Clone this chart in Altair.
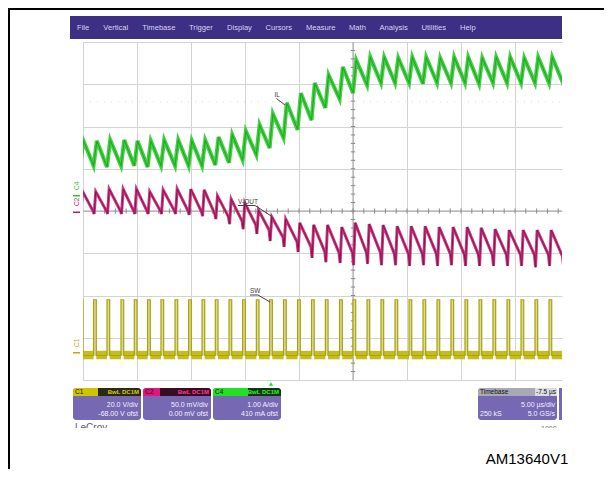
import altair as alt
import numpy as np
import pandas as pd

# ---------------- data ----------------
# switching instants (us from the left edge of the graticule, 5 us/div)
sw_times = [-0.25, 0.98, 2.22, 3.52, 4.75, 5.98, 7.22, 8.52, 9.78, 11.02, 12.25,
            13.52, 14.78, 16.05, 17.28, 18.57, 19.87, 21.16, 22.44, 23.76, 25.00,
            26.30, 27.59, 28.89, 30.19, 31.48, 32.78, 34.07, 35.37, 36.67, 37.96,
            39.26, 40.56, 41.85, 43.15, 44.44]
# inductor current IL (screen divisions): valley at switch-on, peak after the pulse
il_valley = [1.07, 1.07, 1.04, 1.07, 1.07, 1.04, 1.07, 1.07, 1.07, 1.07, 1.09,
             1.14, 1.21, 1.33, 1.49, 1.73, 1.92, 2.15, 2.44, 2.65, 2.79, 2.98,
             3.03, 3.03, 3.03, 3.01, 3.03, 3.03, 3.03, 3.01, 3.03, 3.03, 3.03,
             3.03, 3.03, 3.03]
il_peak = [1.66, 1.66, 1.68, 1.68, 1.66, 1.66, 1.68, 1.68, 1.66, 1.68, 1.75,
           1.80, 1.89, 2.04, 2.30, 2.56, 2.79, 3.03, 3.22, 3.41, 3.57, 3.64,
           3.64, 3.62, 3.64, 3.64, 3.62, 3.64, 3.64, 3.62, 3.64, 3.64, 3.62,
           3.64, 3.64, 3.64]
# output voltage ripple V-OUT (screen divisions)
vout_peak = [0.47, 0.46, 0.52, 0.52, 0.52, 0.46, 0.50, 0.52, 0.52, 0.50, 0.36,
             0.28, 0.19, 0.02, -0.14, -0.19, -0.28, -0.33, -0.33, -0.38, -0.28,
             -0.31, -0.33, -0.36, -0.36, -0.36, -0.38, -0.38, -0.38, -0.40, -0.43,
             -0.45, -0.45, -0.45, -0.45, -0.45]
vout_trough = [0.0, 0.0, 0.0, 0.0, 0.0, 0.0, 0.0, 0.0, -0.02, -0.07, -0.14,
               -0.24, -0.33, -0.45, -0.62, -0.73, -0.85, -0.97, -0.99, -0.99, -0.99,
               -0.99, -1.02, -1.02, -1.02, -1.02, -1.02, -1.04, -1.04, -1.04, -1.04,
               -1.04, -1.04, -1.04, -1.07, -1.07]
vout_dip = [-0.05, -0.07, -0.07, -0.07, -0.07, -0.07, -0.07, -0.07, -0.09, -0.12,
            -0.19, -0.31, -0.43, -0.54, -0.71, -0.85, -0.97, -1.11, -1.21, -1.23,
            -1.28, -1.25, -1.28, -1.28, -1.30, -1.28, -1.30, -1.28, -1.30, -1.30,
            -1.30, -1.30, -1.30, -1.33, -1.30, -1.30]
# switch node SW (screen divisions)
sw_low = -3.42
sw_high = -2.10
sw_band = [-3.31, -3.51]
sw_width = 0.25

menu_items = ["File", "Vertical", "Timebase", "Trigger", "Display", "Cursors",
              "Measure", "Math", "Analysis", "Utilities", "Help"]
channel_boxes = [
    ("C1", "BwL DC1M", "20.0 V/div", "-68.00 V ofst"),
    ("C2", "BwL DC1M", "50.0 mV/div", "0.00 mV ofst"),
    ("C4", "BwL DC1M", "1.00 A/div", "410 mA ofst"),
]
timebase_box = ("Timebase", "-7.5 µs", "5.00 µs/div", "250 kS", "5.0 GS/s")

# ---------------- layout ----------------
PX0, PY0 = 83, 42          # page position of the graticule's top-left corner
W, H = 479, 338            # visible graticule (54 px/div x, 42.25 px/div y)
XMAX = W / 54 * 5
one = pd.DataFrame({"a": [0]})

xs = alt.Scale(domain=[0, XMAX], nice=False, zero=False)
ys = alt.Scale(domain=[-4, 4], nice=False, zero=False)
GRID = "#d3d3d3"
xaxis = alt.Axis(values=[0, 5, 10, 15, 20, 25, 30, 35, 40], grid=True, gridColor=GRID,
                 gridWidth=1, labels=False, ticks=False, domain=False, title=None)
yaxis = alt.Axis(values=[-4, -3, -2, -1, 0, 1, 2, 3, 4], grid=True, gridColor=GRID,
                 gridWidth=1, labels=False, ticks=False, domain=False, title=None)
X = alt.X("t:Q", scale=xs, axis=xaxis)
Y = alt.Y("v:Q", scale=ys, axis=yaxis)


def rect(x1, y1, x2, y2, fill, **kw):
    return alt.Chart(one).mark_rect(fill=fill, **kw).encode(
        x=alt.value(x1 - PX0), x2=alt.value(x2 - PX0),
        y=alt.value(y1 - PY0), y2=alt.value(y2 - PY0))


def seg(x1, y1, x2, y2, color, w=1.0):
    return alt.Chart(one).mark_rule(color=color, strokeWidth=w).encode(
        x=alt.value(x1 - PX0), x2=alt.value(x2 - PX0),
        y=alt.value(y1 - PY0), y2=alt.value(y2 - PY0))


def text(s, x, y, size=7, color="#000", align="left", angle=0, weight="normal",
         font="Liberation Sans"):
    return alt.Chart(one).mark_text(text=s, fontSize=size, color=color, align=align,
                                    baseline="middle", angle=angle, fontWeight=weight,
                                    font=font).encode(
        x=alt.value(x - PX0), y=alt.value(y - PY0))


layers = []

# ---- graticule centre lines with minor ticks ----
layers.append(alt.Chart(pd.DataFrame({"t": [0], "t2": [XMAX], "v": [0]}))
              .mark_rule(color="#a0a0a0", strokeWidth=1)
              .encode(x=X, x2="t2:Q", y=Y))
layers.append(alt.Chart(pd.DataFrame({"t": [25], "v": [-4], "v2": [4]}))
              .mark_rule(color="#a0a0a0", strokeWidth=1)
              .encode(x=X, y=Y, y2="v2:Q"))
ht = np.arange(1, 44.4, 1.0)
layers.append(alt.Chart(pd.DataFrame({"t": ht, "v": -0.06, "v2": 0.06}))
              .mark_rule(color="#8a8a8a", strokeWidth=1)
              .encode(x=X, y=Y, y2="v2:Q"))
vt = np.arange(-3.8, 3.9, 0.2)
layers.append(alt.Chart(pd.DataFrame({"t": 24.8, "t2": 25.2, "v": vt}))
              .mark_rule(color="#8a8a8a", strokeWidth=1)
              .encode(x=X, x2="t2:Q", y=Y))
layers.append(alt.Chart(pd.DataFrame({"t": [0], "t2": [XMAX], "v": [2.58]}))
              .mark_rule(color="#dadada", strokeWidth=1, strokeDash=[1, 6])
              .encode(x=X, x2="t2:Q", y=Y))

# ---- SW trace (yellow) ----
sw_rows, band_rows, fill_rows = [], [], []
i = 0
for k, t in enumerate(sw_times):
    for tt, vv in [(t, sw_low), (t, sw_high), (t + sw_width, sw_high), (t + sw_width, sw_low)]:
        sw_rows.append((i, tt, vv)); i += 1
    fill_rows.append((t, t + sw_width, sw_low, sw_high))
    if k + 1 < len(sw_times):
        band_rows.append((t + sw_width, sw_times[k + 1], sw_band[0], sw_band[1]))
df_sw = pd.DataFrame(sw_rows, columns=["i", "t", "v"])
df_band = pd.DataFrame(band_rows, columns=["t", "t2", "v", "v2"])
df_fill = pd.DataFrame(fill_rows, columns=["t", "t2", "v", "v2"])
layers.append(alt.Chart(df_fill).mark_rect(fill="#dcd8a6", clip=True)
              .encode(x=X, x2="t2:Q", y=Y, y2="v2:Q"))
layers.append(alt.Chart(df_band).mark_rect(fill="#c4bc20", clip=True)
              .encode(x=X, x2="t2:Q", y=Y, y2="v2:Q"))
layers.append(alt.Chart(df_sw).mark_line(color="#aaa300", strokeWidth=1.2, clip=True)
              .encode(x=X, y=Y, order="i:Q"))

# ---- IL trace (green) ----
il_rows = []
for k, t in enumerate(sw_times):
    il_rows.append((t, il_valley[k]))
    il_rows.append((t + 0.3, il_peak[k]))
df_il = pd.DataFrame(il_rows, columns=["t", "v"])
layers.append(alt.Chart(df_il).mark_line(color="#44d044", strokeWidth=4, clip=True)
              .encode(x=X, y=Y))
layers.append(alt.Chart(df_il).mark_line(color="#22a822", strokeWidth=1.1, clip=True)
              .encode(x=X, y=Y))

# ---- V-OUT trace (magenta) ----
vo_rows = []
for k, t in enumerate(sw_times):
    prev = vout_trough[k - 1] if k > 0 else vout_trough[0]
    vo_rows.append((t - 0.05, prev))
    vo_rows.append((t + 0.05, vout_dip[k]))
    vo_rows.append((t + 0.2, vout_peak[k]))
df_vo = pd.DataFrame(vo_rows, columns=["t", "v"])
layers.append(alt.Chart(df_vo).mark_line(color="#c93a80", strokeWidth=3, clip=True)
              .encode(x=X, y=Y))
layers.append(alt.Chart(df_vo).mark_line(color="#8e1250", strokeWidth=1, clip=True)
              .encode(x=X, y=Y))

# ---- trace annotations ----
ANN = "#404040"
layers += [
    text("IL", 274.5, 94.5, size=6.5, color=ANN),
    seg(276.5, 98.5, 285, 105, ANN),
    text("V-OUT", 238, 201.5, size=6.5, color=ANN),
    seg(238, 205.5, 255, 205.5, ANN),
    seg(255, 205.5, 272, 216.5, ANN),
    text("SW", 250, 290.5, size=6.5, color=ANN),
    seg(250, 295, 258, 295, ANN),
    seg(258, 295, 270, 302, ANN),
]

# ---- channel markers on the left ----
layers += [
    text("C4", 76.5, 190, size=6.5, color="#2ec52e", angle=270),
    rect(73, 195, 80, 196.5, "#2ec52e"),
    text("C2", 76.5, 206, size=6.5, color="#c2186c", angle=270),
    rect(73, 211.5, 80, 213, "#c2186c"),
    text("C1", 76.5, 347, size=6.5, color="#b5ad10", angle=270),
    rect(73, 352, 80, 353.5, "#b5ad10"),
]

# ---- page frame ----
layers += [seg(8, 9, 604, 9, "#000", 2), seg(9, 8, 9, 469, "#000", 2)]

# ---- scope menu bar ----
layers.append(rect(70, 16, 562, 39, "#3d2f83"))
menu_x = [77, 103.3, 142.3, 189, 227, 265.5, 306, 349, 379.5, 421.5, 460]
for name, mx in zip(menu_items, menu_x):
    layers.append(text(name, mx, 28, size=7.6, color="#d9d5ee"))

# ---- channel descriptor boxes ----
BODY = "#7668b2"
box_geo = [(73, 141, 98, "#cfc400", "#2b2a10", "#d8cf20"),
           (143, 211, 160, "#e0157c", "#3a0c22", "#ff3c9a"),
           (213, 281, 248, "#22e022", "#0f3a0f", "#40f040")]
for (name, bw, vdiv, ofs), (x1, x2, xm, col, dark, tcol) in zip(channel_boxes, box_geo):
    layers += [
        rect(x1, 388, x2, 420, BODY, cornerRadius=3),
        rect(x1, 388, xm, 396, col, cornerRadiusTopLeft=3),
        rect(xm, 388, x2, 396, dark, cornerRadiusTopRight=3),
        text(name, x1 + 2, 392, size=6.5, color="#101010"),
        text(bw, x2 - 2, 392, size=6, color=tcol, align="right", weight="bold"),
        text(vdiv, x2 - 3, 404.5, size=7, color="#f4f2ff", align="right"),
        text(ofs, x2 - 3, 413.5, size=7, color="#f4f2ff", align="right"),
    ]
tb, tbv, tdiv, tks, tgs = timebase_box
layers += [
    rect(478, 388, 557, 420, BODY, cornerRadius=3),
    rect(478, 388, 535, 396, "#a9a9b4", cornerRadiusTopLeft=3),
    rect(535, 388, 557, 396, "#dcdce4", cornerRadiusTopRight=3),
    text(tb, 480, 392, size=6.5, color="#101010"),
    text(tbv, 556, 392, size=6.5, color="#101010", align="right"),
    text(tdiv, 555, 404.5, size=7, color="#f4f2ff", align="right"),
    text(tks, 480, 413.5, size=7, color="#f4f2ff"),
    text(tgs, 555, 413.5, size=7, color="#f4f2ff", align="right"),
    rect(559, 388, 562, 420, BODY),
]
# trigger position marker
layers.append(alt.Chart(one).mark_point(shape="triangle-up", filled=True, color="#2ed22e",
                                        size=18, opacity=1)
              .encode(x=alt.value(271 - PX0), y=alt.value(384 - PY0)))

# ---- partially cropped scope footer text ----
layers += [
    text("LeCroy", 75, 428, size=10, color="#606060"),
    text("1000", 541, 428.5, size=7, color="#707070"),
    rect(60, 428, 140, 445, "#ffffff"),
    rect(530, 428, 562, 445, "#ffffff"),
]

# ---- figure id ----
layers.append(text("AM13640V1", 527, 459, size=15, color="#000", align="center"))

chart = alt.layer(*layers).properties(
    width=W, height=H,
    autosize=alt.AutoSizeParams(type="none"),
    padding={"left": 75, "top": 34, "right": 42, "bottom": 89},
    background="#ffffff",
).configure_view(stroke=None)

chart.save("out.html", embed_options={"renderer": "svg", "actions": False})
